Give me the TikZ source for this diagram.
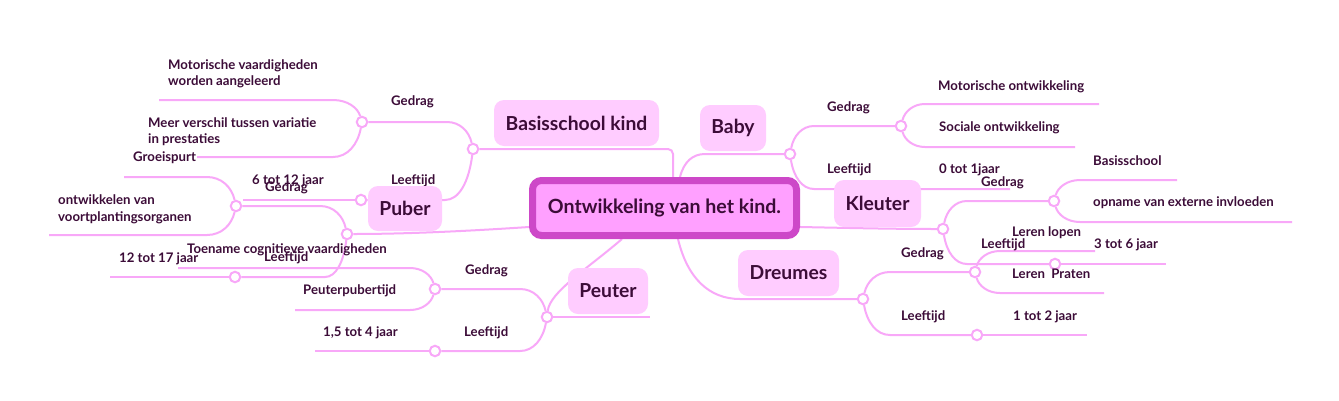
\documentclass[tikz,border=0pt]{standalone}
\usepackage{fontspec}
\setmainfont{Lato}
\usetikzlibrary{calc,backgrounds}
\definecolor{linkc}{RGB}{248,168,248}
\definecolor{topicc}{RGB}{255,204,255}
\definecolor{rootfill}{RGB}{255,160,255}
\definecolor{rootline}{RGB}{205,72,200}
\definecolor{txt}{RGB}{60,12,56}
\newcommand\br[3]{\draw[link] (#1) .. controls ($(#1)!.65!(#1 |- #2)+(#3*0.15,0)$) and ($(#1 |- #2)+(#3*0.5,0)$) .. ($(#1 |- #2)+(#3,0)$) -- (#2);}
\tikzset{
 link/.style={draw=linkc, line width=2pt},
 junc/.style={circle, draw=linkc, fill=white, line width=2pt, minimum size=10.5pt, inner sep=0pt},
 topic/.style={fill=topicc, rounded corners=10pt, text=txt, font=\fontsize{19.3}{21}\selectfont\bfseries, inner sep=0pt},
 lbl/.style={text=txt, font=\fontsize{13.2}{16.5}\selectfont\bfseries, inner sep=0pt, anchor=west, align=left},
}
\begin{document}
\begin{tikzpicture}[x=1pt,y=-1pt]
\useasboundingbox (0,0) rectangle (1339,400);
% junctions
\node[junc] (jBK) at (473,149) {};
\node[junc] (jBKg) at (362,122) {};
\node[junc] (jBKl) at (361,200) {};
\node[junc] (jPu) at (347,234) {};
\node[junc] (jPug) at (236,206) {};
\node[junc] (jPul) at (235,277) {};
\node[junc] (jPe) at (547,317) {};
\node[junc] (jPeg) at (435,289) {};
\node[junc] (jPel) at (435,351) {};
\node[junc] (jBa) at (790,154) {};
\node[junc] (jBag) at (901,126) {};
\node[junc] (jKl) at (943,229) {};
\node[junc] (jKlg) at (1054,201) {};
\node[junc] (jKll) at (1055,264) {};
\node[junc] (jDr) at (863,299) {};
\node[junc] (jDrg) at (975,272) {};
\node[junc] (jDrl) at (977,335) {};
% leaf ends
\coordinate (eMV) at (159,100);
\coordinate (eMVt) at (197,157);
\coordinate (e612) at (243,200);
\coordinate (eGr) at (124,177);
\coordinate (eOv) at (49,235);
\coordinate (e1217) at (110,277);
\coordinate (eTo) at (178,268);
\coordinate (ePp) at (295,310);
\coordinate (e154) at (315,351);
\coordinate (ePe) at (650,317);
\coordinate (eBal) at (1010,189);
\coordinate (eMo) at (1099,104);
\coordinate (eSo) at (1075,147);
\coordinate (eKl) at (1166,264);
\coordinate (eBs) at (1177,180);
\coordinate (eOp) at (1292,222);
\coordinate (eDr) at (1087,335);
\coordinate (eLl) at (1095,251);
\coordinate (eLp) at (1104,293);
% labels
\node[lbl] (t1) at (168,74) {Motorische vaardigheden\\worden aangeleerd};
\node[lbl] (t2) at (148,131.5) {Meer verschil tussen variatie\\in prestaties};
\node[lbl] (t3) at (391,102) {Gedrag};
\node[lbl] (t4) at (391,181) {Leeftijd};
\node[lbl] (t5) at (133,158) {Groeispurt};
\node[lbl] (t6) at (252,181) {6 tot 12 jaar};
\node[lbl] (t7) at (265,188) {Gedrag};
\node[lbl] (t8) at (58,209.5) {ontwikkelen van\\voortplantingsorganen};
\node[lbl] (t9) at (187,250) {Toename cognitieve vaardigheden};
\node[lbl] (t10) at (119,259) {12 tot 17 jaar};
\node[lbl] (t11) at (264,258) {Leeftijd};
\node[lbl] (t12) at (303,291) {Peuterpubertijd};
\node[lbl] (t13) at (465,271) {Gedrag};
\node[lbl] (t14) at (464,333) {Leeftijd};
\node[lbl] (t15) at (323,333) {1,5 tot 4 jaar};
\node[lbl] (t16) at (827,108) {Gedrag};
\node[lbl] (t17) at (827,170) {Leeftijd};
\node[lbl] (t18) at (938,87) {Motorische ontwikkeling};
\node[lbl] (t19) at (939,128) {Sociale ontwikkeling};
\node[lbl] (t20) at (939,170) {0 tot 1jaar};
\node[lbl] (t21) at (981,183) {Gedrag};
\node[lbl] (t22) at (1093,161) {Basisschool};
\node[lbl] (t23) at (1093,203) {opname van externe invloeden};
\node[lbl] (t24) at (1012,233) {Leren lopen};
\node[lbl] (t25) at (981,245) {Leeftijd};
\node[lbl] (t26) at (1094,245) {3 tot 6 jaar};
\node[lbl] (t27) at (901,254) {Gedrag};
\node[lbl] (t28) at (1012,274) {Leren\ \ Praten};
\node[lbl] (t29) at (901,317) {Leeftijd};
\node[lbl] (t30) at (1013,317) {1 tot 2 jaar};
% topics
\node[topic, minimum width=165pt, minimum height=46pt] (bk) at (576.5,123) {Basisschool kind};
\node[topic, minimum width=66pt, minimum height=46pt] (baby) at (733,128) {Baby};
\node[topic, minimum width=74pt, minimum height=45pt] (puber) at (405,208.5) {Puber};
\node[topic, minimum width=80pt, minimum height=46pt] (peuter) at (608,291) {Peuter};
\node[topic, minimum width=101pt, minimum height=46pt] (dreumes) at (788.5,273) {Dreumes};
\node[topic, minimum width=87pt, minimum height=47pt] (kleuter) at (877.5,203.5) {Kleuter};
% root
\node[draw=rootline, fill=rootfill, line width=7pt, rounded corners=9pt, minimum width=264pt, minimum height=55pt, inner sep=0pt, text=txt, font=\fontsize{19.6}{21}\selectfont\bfseries] (root) at (664.5,208) {Ontwikkeling van het kind.};
\coordinate (rBK) at ([xshift=8.5pt]root.north);
\coordinate (rBa) at ([xshift=15.5pt]root.north);
\coordinate (rPu) at ([yshift=-19pt]root.west);
\coordinate (rKl) at ([yshift=-19pt]root.east);
\coordinate (rPe) at ([xshift=-42.5pt]root.south);
\coordinate (rDr) at ([xshift=13.5pt]root.south);
\begin{scope}[on background layer]
\fill[white] (0,0) rectangle (1339,400);
% root connectors
\draw[link, rounded corners=5pt] (rBK) |- (jBK);
\br{rBa}{jBa}{25}
\draw[link] (rPu) .. controls +(-60,4) and +(60,0) .. (jPu);
\draw[link] (rKl) .. controls +(50,1) and +(-50,0) .. (jKl);
\draw[link] (rPe) .. controls +(-35,30) and +(3,-25) .. (jPe);
\br{rDr}{jDr}{62}
% left
\br{jBK}{jBKg}{-26}
\br{jBK}{jBKl}{-28}
\br{jBKg}{eMV}{-29}
\br{jBKg}{eMVt}{-29}
\draw[link] (jBKl) -- (e612);
\br{jPu}{jPug}{-27}
\br{jPu}{jPul}{-22}
\br{jPug}{eGr}{-29}
\br{jPug}{eOv}{-29}
\draw[link] (jPul) -- (e1217);
\draw[link] (jPe) -- (ePe);
\br{jPe}{jPeg}{-27}
\br{jPe}{jPel}{-27}
\br{jPeg}{eTo}{-25}
\br{jPeg}{ePp}{-25}
\draw[link] (jPel) -- (e154);
% right
\br{jBa}{jBag}{24}
\br{jBa}{eBal}{24}
\br{jBag}{eMo}{24}
\br{jBag}{eSo}{24}
\br{jKl}{jKlg}{24}
\br{jKl}{jKll}{24}
\draw[link] (jKll) -- (eKl);
\br{jKlg}{eBs}{26}
\br{jKlg}{eOp}{26}
\br{jDr}{jDrg}{27}
\br{jDr}{jDrl}{27}
\draw[link] (jDrl) -- (eDr);
\br{jDrg}{eLl}{25}
\br{jDrg}{eLp}{25}
\end{scope}
\end{tikzpicture}
\end{document}
